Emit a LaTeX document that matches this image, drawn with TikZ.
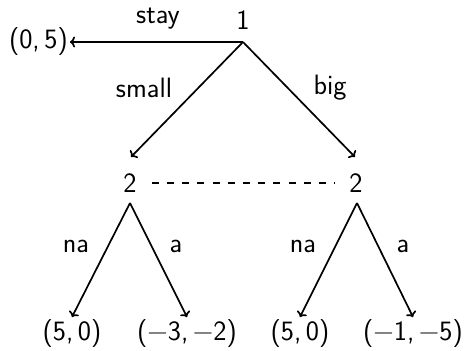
\documentclass[tikz,border=0pt]{standalone}
\usetikzlibrary{arrows.meta}
\newcommand{\mn}{\textminus}
\begin{document}
\begin{tikzpicture}[x=1pt,y=-1pt,
  every node/.style={font=\fontsize{28}{33}\selectfont\sffamily},
  edge/.style={-{To[length=5pt,width=11pt]},line width=1.7pt},
  lbl/.style={inner sep=0pt},
  leaf/.style={inner sep=2pt}]
\useasboundingbox (0,0) rectangle (469,351);
\coordinate (r) at (243,42);
\node[lbl] (one) at (243,20) {1};
\node[leaf,anchor=east] (s) at (70,42) {(0,\,5)};
\node[inner sep=0pt] (a) at (130,183) {2};
\node[inner sep=0pt] (b) at (356,183) {2};
\node[leaf,anchor=north] (l1) at (72,317) {(5,\,0)};
\node[leaf,anchor=north] (l2) at (187,317) {(\mn3,\,\mn2)};
\node[leaf,anchor=north] (l3) at (300,317) {(5,\,0)};
\node[leaf,anchor=north] (l4) at (413,317) {(\mn1,\,\mn5)};
\coordinate (at) at (131,157);
\coordinate (bt) at (355,157);
\coordinate (ab) at (130,203);
\coordinate (bb) at (357,203);
\draw[edge] (r) -- (s.east);
\draw[edge] (r) -- (at);
\draw[edge] (r) -- (bt);
\draw[line width=1.6pt,dash pattern=on 7pt off 8.2pt] ([xshift=15pt]a.east) -- ([xshift=-15pt]b.west);
\draw[edge] (ab) -- (l1.north);
\draw[edge] (ab) -- (l2.north);
\draw[edge] (bb) -- (l3.north);
\draw[edge] (bb) -- (l4.north);
\node[lbl] (tstay) at (158,19) {stay};
\node[lbl] (tsmall) at (144,88) {small};
\node[lbl] (tbig) at (330,88) {big};
\node[lbl] (tna1) at (76,246) {na};
\node[lbl] (ta1) at (176,246) {a};
\node[lbl] (tna2) at (303,246) {na};
\node[lbl] (ta2) at (403,246) {a};
\end{tikzpicture}
\end{document}
